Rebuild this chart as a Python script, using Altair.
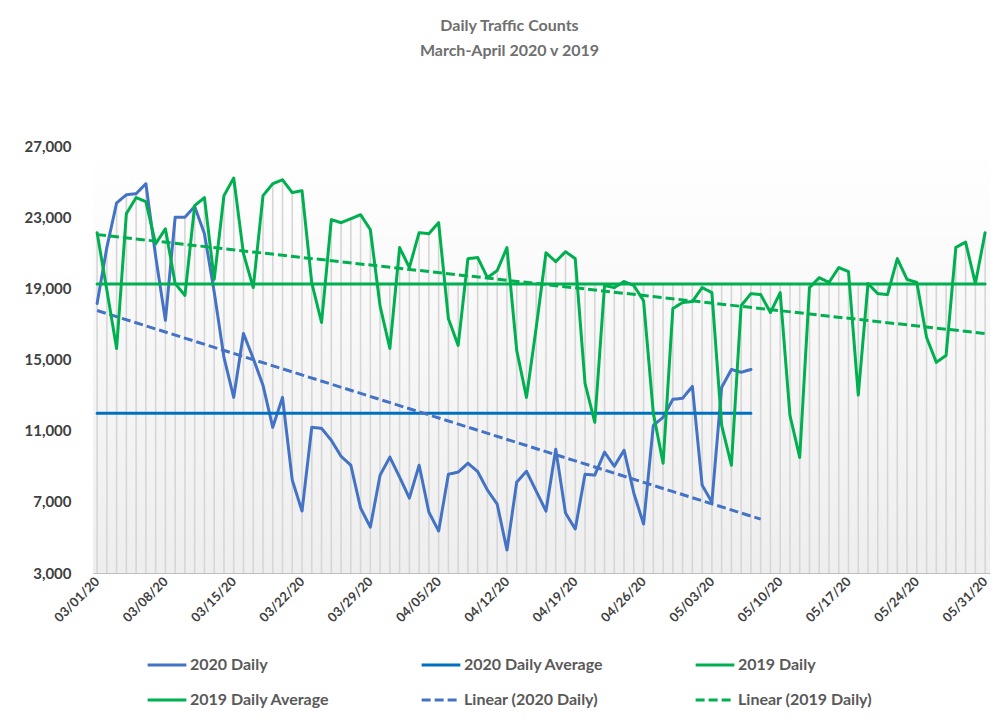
import altair as alt
import pandas as pd

# ---------------- data ----------------
dates = pd.date_range("2020-03-01", "2020-05-31").strftime("%m/%d/%y").tolist()

daily_2020 = [
    18150, 21300, 23800, 24260, 24320, 24880, 20800, 17200, 23000, 23000,
    23600, 22070, 18800, 15120, 12870, 16460, 15060, 13550, 11190, 12870,
    8220, 6480, 11190, 11130, 10460, 9560, 9060, 6650, 5580, 8500,
    9510, 8390, 7210, 9060, 6420, 5360, 8550, 8670, 9170, 8700,
    7660, 6870, 4290, 8110, 8720, 7600, 6480, 9960, 6370, 5470,
    8550, 8500, 9790, 9000, 9900, 7490, 5750, 11300, 11750, 12760,
    12820, 13490, 7940, 6980, 13430, 14440, 14280, 14440,
]

daily_2019 = [
    22130, 18900, 15620, 23200, 24100, 23870, 21500, 22350, 19270, 18600,
    23650, 24100, 19500, 24210, 25200, 20950, 19040, 24210, 24880, 25100,
    24380, 24490, 19300, 17080, 22860, 22690, 22910, 23140, 22300, 18000,
    15620, 21290, 20170, 22130, 22070, 22690, 17300, 15790, 20670, 20730,
    19600, 20000, 21290, 15510, 12870, 16800, 21000, 20500, 21060, 20670,
    13660, 11470, 19160, 19040, 19380, 19160, 18300, 11980, 9170, 17870,
    18200, 18260, 19040, 18760, 11300, 9060, 18030, 18700, 18650, 17640,
    18760, 11860, 9500, 19040, 19600, 19330, 20170, 19940, 13000, 19270,
    18700, 18650, 20670, 19500, 19330, 16240, 14840, 15230, 21300, 21600,
    19270, 22130,
]

series_names = ["2020 Daily", "2020 Daily Average", "2019 Daily",
                "2019 Daily Average", "Linear (2020 Daily)", "Linear (2019 Daily)"]
series_colors = ["#4472C4", "#0070C0", "#00B050", "#00B050", "#4472C4", "#00B050"]
series_dash = [[1, 0], [1, 0], [1, 0], [1, 0], [9, 4], [9, 4]]

y_ticks = [3000, 7000, 11000, 15000, 19000, 23000, 27000]
x_ticks = [0, 7, 14, 21, 28, 35, 42, 49, 56, 63, 70, 77, 84, 91]
trend_2020_extent = [0, 68]

n = len(dates)
df = pd.DataFrame({
    "day": list(range(n)),
    "date": dates,
    "v2020": daily_2020 + [None] * (n - len(daily_2020)),
    "v2019": daily_2019,
})

# ---------------- styling ----------------
FONT = "Lato"
PLOT_W, PLOT_H = 897, 427
label_expr = "[" + ",".join("'%s'" % d for d in dates) + "][datum.value]"

x_enc = alt.X(
    "day:Q",
    scale=alt.Scale(domain=[-0.42, 91.5], nice=False, zero=False),
    axis=alt.Axis(values=x_ticks, labelExpr=label_expr, labelAngle=-45,
                  labelAlign="right", labelBaseline="middle", labelPadding=6,
                  labelFont=FONT, labelFontSize=13, labelFontWeight="bold",
                  labelColor="#404040", ticks=False, grid=False,
                  domainColor="#bfbfbf", domainWidth=1, title=None,
                  labelOverlap=False),
)

y_scale = alt.Scale(domain=[y_ticks[0], y_ticks[-1]], nice=False, zero=False)
y_axis = alt.Axis(values=y_ticks, labelExpr="format(datum.value, ',')",
                  labelFont=FONT, labelFontSize=15,
                  labelFontWeight="bold", labelColor="#404040", labelPadding=22,
                  ticks=False, grid=False, domain=False, title=None)

legend = alt.Legend(title=None, orient="none", legendX=53, legendY=498,
                    direction="horizontal", columns=3, symbolType="stroke",
                    symbolSize=1500, symbolStrokeWidth=3, labelFont=FONT,
                    labelFontSize=16, labelFontWeight="bold",
                    labelColor="#595959", columnPadding=85, rowPadding=6,
                    gridAlign="all", labelLimit=0, labelOffset=2)

color_enc = alt.Color("series:N", scale=alt.Scale(domain=series_names, range=series_colors),
                      legend=legend)
dash_enc = alt.StrokeDash("series:N", scale=alt.Scale(domain=series_names, range=series_dash),
                          legend=legend)

base = alt.Chart(df)

# plot-area background gradient (decorative)
background = alt.Chart(pd.DataFrame({"bg": [0]})).mark_rect(
    color=alt.Gradient(gradient="linear", x1=0, y1=0, x2=0, y2=1,
                       stops=[alt.GradientStop(offset=0, color="#ffffff"),
                              alt.GradientStop(offset=1, color="#eeeeee")])
).encode(x=alt.value(0), x2=alt.value(PLOT_W), y=alt.value(0), y2=alt.value(PLOT_H))

# drop lines (from the highest series value down to the axis)
drops = base.transform_joinaggregate(
    m2020="mean(v2020)", m2019="mean(v2019)"
).transform_calculate(
    top="max(isValid(datum.v2020) ? datum.v2020 : 0, isValid(datum.v2020) ? datum.m2020 : 0, datum.v2019, datum.m2019)"
).mark_rule(color="#d6d6d6", strokeWidth=1.6).encode(
    x=x_enc,
    y=alt.Y("top:Q", scale=y_scale, axis=y_axis),
    y2=alt.datum(y_ticks[0]),
)


def series_layer(chart, name, field, dashed=False):
    return chart.transform_calculate(series="'%s'" % name).mark_line(
        strokeWidth=3, strokeJoin="round", strokeCap="butt" if dashed else "round"
    ).encode(
        x=x_enc,
        y=alt.Y(field + ":Q", scale=y_scale, axis=y_axis),
        color=color_enc,
        strokeDash=dash_enc,
    )


valid20 = base.transform_filter("isValid(datum.v2020)")

l_daily20 = series_layer(valid20, series_names[0], "v2020")
l_avg20 = series_layer(valid20.transform_joinaggregate(avg="mean(v2020)"), series_names[1], "avg")
l_trend20 = series_layer(valid20.transform_regression("day", "v2020", extent=trend_2020_extent),
                         series_names[4], "v2020", dashed=True)
l_daily19 = series_layer(base, series_names[2], "v2019")
l_avg19 = series_layer(base.transform_joinaggregate(avg="mean(v2019)"), series_names[3], "avg")
l_trend19 = series_layer(base.transform_regression("day", "v2019", extent=[0, n - 1]),
                         series_names[5], "v2019", dashed=True)

chart = alt.layer(
    background, drops, l_daily20, l_avg20, l_trend20, l_daily19, l_avg19, l_trend19
).properties(
    width=PLOT_W,
    height=PLOT_H,
    padding={"left": 85, "top": 138, "right": 4, "bottom": 142},
    autosize=alt.AutoSizeParams(type="none"),
    title=alt.TitleParams(
        text=["Daily Traffic Counts", "March-April 2020 v 2019"],
        anchor="middle", frame="group", dx=-32, offset=80,
        font=FONT, fontSize=16, fontWeight="bold", color="#6f6f6f",
        lineHeight=25,
    ),
).configure_view(stroke=None)

chart.save("out.html", embed_options={"renderer": "svg", "actions": False})
